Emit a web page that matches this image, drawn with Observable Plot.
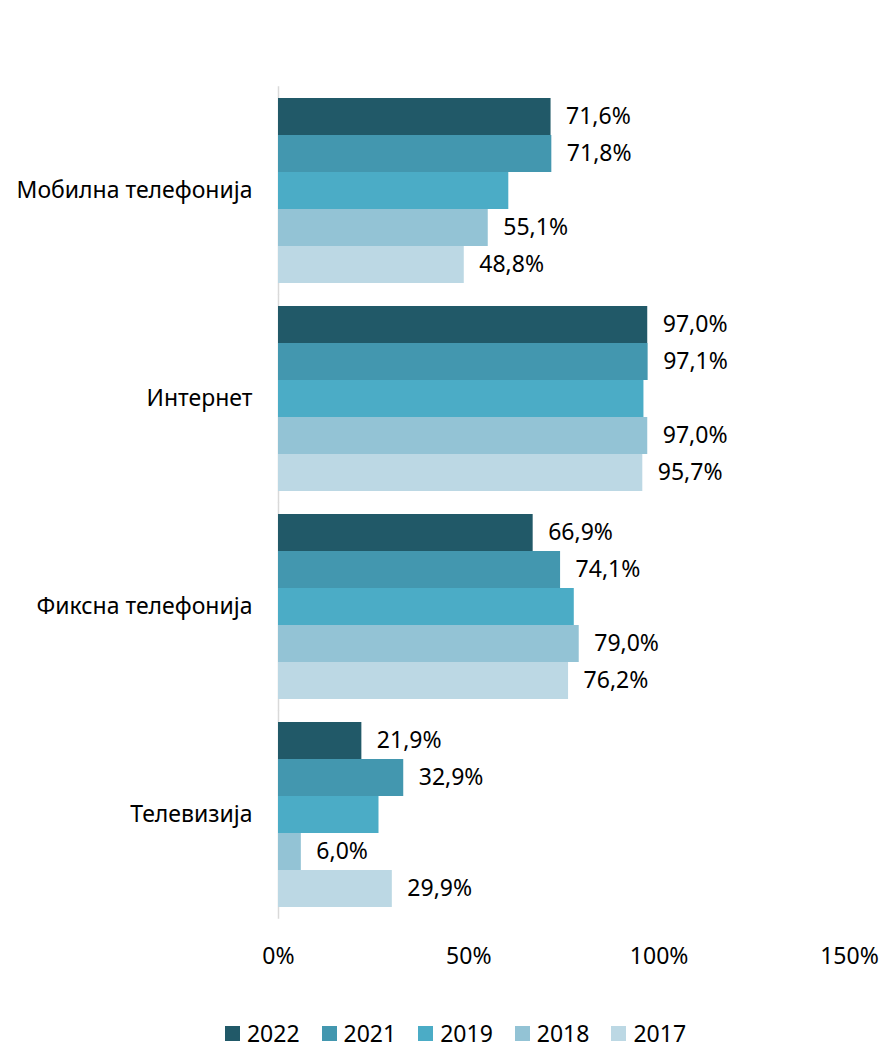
<!DOCTYPE html>
<html>
<head>
<meta charset="utf-8">
<script src="https://cdn.jsdelivr.net/npm/d3@7"></script>
<script src="https://cdn.jsdelivr.net/npm/@observablehq/plot@0.6"></script>
<style>
  body { margin: 0; background: white; font-family: "Noto Sans", sans-serif; }
  #chart svg { display: block; }
  #legend { display: flex; justify-content: center; align-items: center; height: 30px; margin-top: 6px; padding-left: 30px; font-size: 23px; line-height: 1; color: #000; }
  #legend .item { display: flex; align-items: center; margin: 0 11px; }
  #legend .sw { width: 15px; height: 15px; margin-right: 7px; }
</style>
</head>
<body>
<div id="chart"></div>
<div id="legend"></div>
<script>
const categories = ["Мобилна телефонија", "Интернет", "Фиксна телефонија", "Телевизија"];
const years = ["2022", "2021", "2019", "2018", "2017"];
const v2022 = [71.6, 97.0, 66.9, 21.9];
const v2021 = [71.8, 97.1, 74.1, 32.9];
const v2019 = [60.5, 96.0, 77.7, 26.4];
const v2018 = [55.1, 97.0, 79.0, 6.0];
const v2017 = [48.8, 95.7, 76.2, 29.9];
const showLabel = [true, true, false, true, true];
const colors = ["#215968", "#4397AF", "#4BACC6", "#93C3D5", "#BCD8E4"];
const xTicks = [0, 50, 100, 150];

const series = [v2022, v2021, v2019, v2018, v2017];
const data = [];
categories.forEach((c, i) => years.forEach((yr, j) => {
  data.push({category: c, year: yr, value: series[j][i], label: showLabel[j]});
}));

const fmt = v => v.toFixed(1).replace(".", ",") + "%";

const chart = Plot.plot({
  width: 881,
  height: 1012,
  marginLeft: 278,
  marginRight: 32,
  marginTop: 85,
  marginBottom: 93,
  style: {fontFamily: "Noto Sans", fontSize: "23px", color: "#000", background: "white", overflow: "visible"},
  x: {domain: [0, 150], ticks: xTicks, tickFormat: d => d + "%", tickSize: 0, tickPadding: 40, label: null},
  y: {domain: years, axis: null, padding: 0},
  fy: {domain: categories, label: null, tickSize: 0, tickPadding: 26, paddingInner: 0.1127, paddingOuter: 0.0564},
  color: {domain: years, range: colors},
  marks: [
    Plot.ruleX([0], {stroke: "#d9d9d9", strokeWidth: 1.5, insetTop: -11.75, insetBottom: -11.75}),
    Plot.barX(data, {fy: "category", y: "year", x: "value", fill: "year"}),
    Plot.text(data.filter(d => d.label), {fy: "category", y: "year", x: "value", text: d => fmt(d.value), dx: 15, textAnchor: "start", fontSize: 23, fill: "#000"})
  ]
});
document.getElementById("chart").appendChild(chart);

const legend = document.getElementById("legend");
years.forEach((yr, j) => {
  const item = document.createElement("div");
  item.className = "item";
  const sw = document.createElement("div");
  sw.className = "sw";
  sw.style.background = colors[j];
  const t = document.createElement("span");
  t.textContent = yr;
  item.appendChild(sw);
  item.appendChild(t);
  legend.appendChild(item);
});
</script>
</body>
</html>
